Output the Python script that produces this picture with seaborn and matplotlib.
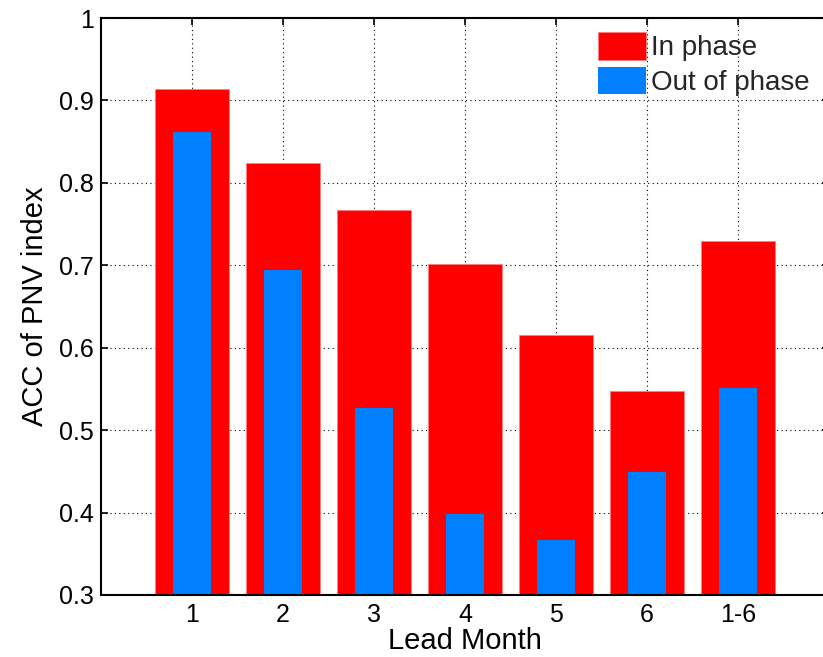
import matplotlib
matplotlib.use("Agg")
import matplotlib.pyplot as plt
import seaborn as sns
import pandas as pd

categories = ["1", "2", "3", "4", "5", "6", "1-6"]
in_phase = [0.914, 0.824, 0.767, 0.701, 0.616, 0.548, 0.729]
out_of_phase = [0.862, 0.694, 0.527, 0.398, 0.367, 0.449, 0.551]
yticks = [0.3, 0.4, 0.5, 0.6, 0.7, 0.8, 0.9, 1.0]
ytick_labels = ["0.3", "0.4", "0.5", "0.6", "0.7", "0.8", "0.9", "1"]

sns.set_theme(style="white")
plt.rcParams["font.family"] = ["Liberation Sans", "DejaVu Sans"]

df = pd.DataFrame({"cat": categories, "in": in_phase, "out": out_of_phase})

fig = plt.figure(figsize=(8.23, 6.57), dpi=100)
ax = fig.add_axes([101 / 823, 62 / 657, (829 - 101) / 823, (595 - 18) / 657])

sns.barplot(data=df, x="cat", y="in", order=categories, color="#FF0000",
            width=0.81, saturation=1, ax=ax, label="In phase",
            edgecolor="#FF8080", linewidth=0.6)
sns.barplot(data=df, x="cat", y="out", order=categories, color="#0080FF",
            width=0.41, saturation=1, ax=ax, label="Out of phase",
            edgecolor="#0080FF", linewidth=0)

ax.set_xlim(-1.0, 7.0)
ax.set_ylim(0.3, 1.0)
ax.set_yticks(yticks)
ax.set_yticklabels(ytick_labels)
ax.set_axisbelow(True)
ax.grid(True, linestyle=(0, (1, 3)), color="black", linewidth=0.8)

ax.tick_params(axis="both", direction="in", length=5, width=1.2, labelsize=18,
               top=True, right=True, bottom=True, left=True, colors="black")
ax.tick_params(axis="x", pad=6)
ax.tick_params(axis="y", pad=5)
for t in ax.get_xticklabels() + ax.get_yticklabels():
    t.set_color("black")
for s in ax.spines.values():
    s.set_visible(True)
    s.set_color("black")
    s.set_linewidth(1.5)

ax.set_xlabel("Lead Month", fontsize=21, color="black", labelpad=0)
ax.set_ylabel("ACC of PNV index", fontsize=21, color="black", labelpad=7)

handles = [ax.containers[0].patches[0], ax.containers[1].patches[0]]
leg = ax.legend(handles, ["In phase", "Out of phase"], loc="upper left",
                bbox_to_anchor=(598 / 823, 1 - 32 / 657), bbox_transform=fig.transFigure,
                frameon=False, fontsize=20, handlelength=1.72, handleheight=1.15,
                handletextpad=0.18, labelspacing=0.2, borderpad=0, borderaxespad=0)

fig.savefig("out.png", dpi=100)
